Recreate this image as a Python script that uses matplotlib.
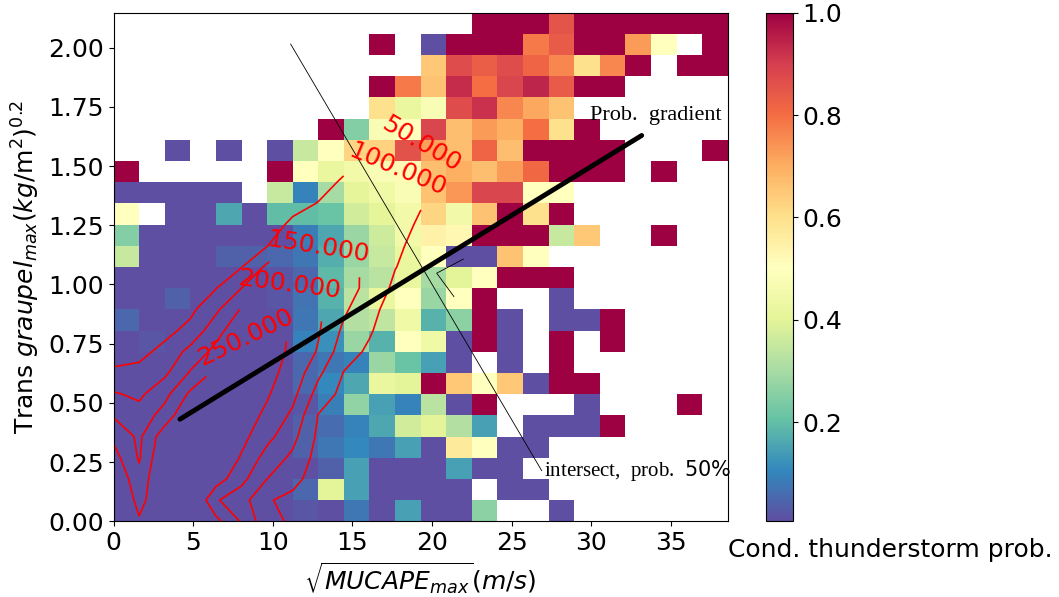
import numpy as np
import matplotlib
matplotlib.use('Agg')
import matplotlib.pyplot as plt

N = np.nan

# conditional thunderstorm probability per bin (top row = highest graupel bin)
prob_rows = [
    [N]*14 + [1, 1, 1, .85, 1, 1, 1, 1, 1, 1],
    [N]*10 + [1, N, 0, 1, 1, 1, .78, .84, 1, 1, .73, .5, N, 1],
    [N]*12 + [.65, .87, .83, .87, .82, .76, .6, .76, 1, N, 1, 1],
    [N]*10 + [1, .78, .66, .93, .8, .88, .94, .84, 1, 1, N, N, N, N],
    [N]*10 + [.6, .42, .48, .87, .92, .76, .71, .66, N, N, N, N, N, N],
    [N]*8 + [1, .25, .48, .5, .88, .67, .73, .7, .8, .6, 1, N, N, N, N, N],
    [N, N, 0, N, 0, N, 0, .35, .5, .62, .63, .86, .72, .67, .82, .67, 1, 1, 1, 1, N, N, N, 1],
    [1, N, N, N, N, N, 1, .5, .42, .45, .48, .52, .67, .7, .67, .73, .81, 1, 1, 1, N, 1, N, N],
    [0, 0, 0, 0, 0, N, .35, .1, .3, .41, .44, .48, .66, .74, .88, .88, .5, .5, N, N, N, N, N, N],
    [.5, N, 0, 0, .16, 0, .2, .2, .21, .37, .41, .45, .62, .45, .66, 1, .6, 1, N, N, N, N, N, N],
    [.25, 0, 0, 0, 0, 0, 0, .09, .16, .28, .36, .45, .55, .53, 1, 1, 1, .35, .65, N, N, 1, N, N],
    [.35, 0, 0, 0, .04, .04, .05, .08, .17, .28, .35, .42, .5, 0, 0, .66, .5, N, N, N, N, N, N, N],
    [0, 0, 0, 0, 0, 0, .02, .05, .19, .3, .33, .42, .3, .4, .5, 1, 1, 1, N, N, N, N, N, N],
    [0, 0, .04, 0, 0, 0, .02, .07, .18, .33, .42, .5, .28, .5, 1, N, N, 0, N, N, N, N, N, N],
    [.05, 0, 0, 0, 0, 0, 0, .08, .16, .32, .34, .44, .18, .26, 1, 0, N, 0, 0, 1, N, N, N, N],
    [0, .02, 0, 0, 0, 0, 0, .1, .12, .28, .18, .5, .44, 0, 1, 0, N, 1, N, 1, N, N, N, N],
    [0, 0, 0, 0, 0, 0, 0, .05, .08, .1, .28, .21, .15, 0, N, 0, N, 1, N, N, N, N, N, N],
    [0, 0, 0, 0, 0, 0, 0, .05, .11, .16, .42, .4, 1, .65, .5, .65, 0, 1, 1, N, N, N, N, N],
    [0, 0, 0, 0, 0, 0, .01, .02, .09, .27, .15, .1, .33, 0, 1, N, N, N, 0, N, N, N, 1, N],
    [0, 0, 0, 0, 0, 0, .01, .04, .06, .1, .16, .37, .4, .32, .15, N, 0, 0, 0, 1, N, N, N, N],
    [0, 0, 0, 0, 0, 0, 0, .04, .08, .11, .08, .15, 0, .57, .5, 0, 0, N, N, N, N, N, N, N],
    [0, 0, 0, 0, 0, 0, 0, 0, .04, .15, 0, 0, 0, .15, 0, 0, N, N, N, N, N, N, N, N],
    [0, 0, 0, 0, 0, 0, 0, .05, .4, .15, 0, 0, 0, 0, N, 0, 0, N, N, N, N, N, N, N],
    [0, 0, 0, 0, 0, 0, 0, .02, 0, .08, 0, .15, 0, 0, .26, N, N, 0, N, N, N, N, N, N],
]

# number of samples (thousands) on the bin-edge grid, bottom row first
count_rows = [
    [330, 256, 330, 340, 265, 195, 116, 92, 70, N, N, N, N, N],
    [320, 232, 300, 320, 205, 170, 105, 85, 62, N, N, N, N, N],
    [300, 215, 310, 335, 275, 215, 150, 118, 72, 58, N, N, N, N],
    [270, 195, 300, 330, 300, 245, 180, 140, 82, 62, N, N, N, N],
    [240, 190, 280, 320, 310, 265, 215, 165, 90, 68, N, N, N, N],
    [195, 170, 220, 300, 305, 275, 240, 190, 98, 75, 60, N, N, N],
    [155, 140, 185, 260, 290, 280, 255, 215, 130, 85, 68, N, N, N],
    [108, 115, 140, 205, 262, 275, 262, 235, 160, 98, 80, N, N, N],
    [80, 85, 115, 165, 215, 262, 262, 245, 195, 120, 92, 62, N, N],
    [62, 66, 85, 115, 180, 240, 258, 248, 205, 140, 105, 70, N, N],
    [N, N, 65, 88, 140, 205, 230, 235, 210, 158, 115, 78, 62, N],
    [N, N, N, 66, 98, 150, 195, 205, 190, 165, 140, 88, 66, N],
    [N, N, N, N, 72, 98, 160, 180, 175, 158, 145, 102, 72, 60],
    [N, N, N, N, N, 72, 98, 158, 148, 140, 140, 112, 80, 65],
    [N, N, N, N, N, N, 72, 112, 128, 128, 138, 122, 92, 70],
    [N, N, N, N, N, N, 55, 80, 102, 118, 135, 125, 104, 72],
    [N, N, N, N, N, N, N, 58, 78, 108, 125, 115, 102, 70],
    [N, N, N, N, N, N, N, N, 60, 82, 95, 92, 70, 48],
    [N, N, N, N, N, N, N, N, N, N, N, 55, 45, 38],
    [N, N, N, N, N, N, N, N, N, N, N, 40, 35, 30],
]
count_levels = [50, 100, 150, 200, 250]
label_pos = [(19.3, 1.59), (17.7, 1.47), (12.85, 1.16), (11.1, 0.99), (8.1, 0.80)]

# fitted gradient line and 50 % intersect line
grad_x = [4.17, 33.16]
grad_y = [0.431, 1.629]
isect_x = [11.12, 26.88]
isect_y = [2.015, 0.214]
angle_x = [21.96, 20.29, 21.37]
angle_y = [1.107, 1.0475, 0.949]

x_edges = np.linspace(0, 38.57, 25)
y_edges = np.linspace(0, 2.148, 25)
prob = np.array(prob_rows, dtype=float)[::-1]
counts = np.array(count_rows, dtype=float)
cx = x_edges[:counts.shape[1]]
cy = y_edges[:counts.shape[0]]

fig = plt.figure(figsize=(10.59, 5.97), dpi=100)
ax = fig.add_axes([0.1072, 0.1268, 0.5801, 0.8522])
cax = fig.add_axes([0.7233, 0.1268, 0.0255, 0.8522])

mesh = ax.pcolormesh(x_edges, y_edges, prob, cmap='Spectral_r', vmin=0.007, vmax=1.0)

cs = ax.contour(cx, cy, counts, levels=count_levels, colors='red', linewidths=1.2)
ax.clabel(cs, inline=True, fmt='%.3f', fontsize=18, manual=label_pos)

ax.plot(grad_x, grad_y, color='k', lw=3.5, solid_capstyle='round')
ax.plot(isect_x, isect_y, color='k', lw=0.6)
ax.plot(angle_x, angle_y, color='k', lw=0.6)

ax.text(29.9, 1.712, 'Prob.  gradient', family='Liberation Serif', fontsize=16, va='center')
ax.text(27.05, 0.213, r'intersect,  prob.  $50\%$', family='Liberation Serif',
        fontsize=15, va='center')

ax.set_xlim(0, 38.57)
ax.set_ylim(0, 2.148)
ax.set_xticks([0, 5, 10, 15, 20, 25, 30, 35])
ax.set_yticks([0, 0.25, 0.5, 0.75, 1.0, 1.25, 1.5, 1.75, 2.0])
ax.tick_params(labelsize=18)
ax.set_xlabel(r'$\sqrt{MUCAPE_{max}}(m/s)$', fontsize=18)
ax.set_ylabel(r'Trans $graupel_{max}(kg/\mathrm{m}^2)^{0.2}$', fontsize=18)

cb = fig.colorbar(mesh, cax=cax, ticks=[0.2, 0.4, 0.6, 0.8, 1.0])
cb.ax.tick_params(labelsize=18)
fig.text(0.6875, 0.079, 'Cond. thunderstorm prob.', fontsize=18, va='center')

fig.savefig('out.png', dpi=100)
